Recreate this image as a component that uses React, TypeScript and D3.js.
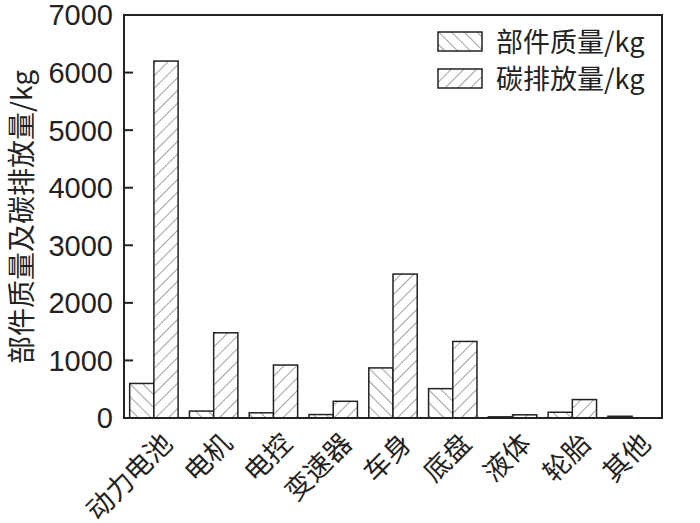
import React from "react";
import * as d3 from "d3";

const categories = ["动力电池", "电机", "电控", "变速器", "车身", "底盘", "液体", "轮胎", "其他"];
const massValues = [600, 120, 90, 60, 870, 510, 20, 100, 30];
const emissionValues = [6200, 1480, 920, 290, 2500, 1330, 55, 320, 0];
const seriesNames = ["部件质量/kg", "碳排放量/kg"];
const yTicks = [0, 1000, 2000, 3000, 4000, 5000, 6000, 7000];
const yLabel = "部件质量及碳排放量/kg";

const W = 700, H = 523;
const L = 124, R = 662, T = 15, B = 418;
const CJK = "'Noto Sans CJK SC', 'Liberation Sans', sans-serif";
const NUM = "'Liberation Sans', Arial, sans-serif";

export default function App() {
  const x = d3.scaleBand<string>().domain(categories).range([L, R]).paddingInner(0.19).paddingOuter(0.095);
  const y = d3.scaleLinear().domain([0, 7000]).range([B, T]);
  const bw = x.bandwidth() / 2;
  const series = [massValues, emissionValues];
  const fills = ["url(#hatchBack)", "url(#hatchFwd)"];
  return (
    <svg width={W} height={H} style={{ display: "block", position: "absolute", left: 0, top: 0 }}>
      <defs>
        <pattern id="hatchBack" patternUnits="userSpaceOnUse" width={9} height={9} patternTransform="rotate(-45)">
          <rect width={9} height={9} fill="#fff" />
          <line x1={0} y1={0} x2={0} y2={9} stroke="#555" strokeWidth={1.1} />
        </pattern>
        <pattern id="hatchFwd" patternUnits="userSpaceOnUse" width={9} height={9} patternTransform="rotate(45)">
          <rect width={9} height={9} fill="#fff" />
          <line x1={0} y1={0} x2={0} y2={9} stroke="#555" strokeWidth={1.1} />
        </pattern>
      </defs>
      <rect width={W} height={H} fill="#fff" />
      {categories.map((c, i) => (
        <g key={c}>
          {series.map((vals, s) => {
            const x0 = (x(c) as number) + s * bw;
            const y0 = y(vals[i]);
            return (
              <rect key={s} x={x0} y={y0} width={bw} height={Math.max(0, B - y0)} fill={fills[s]} stroke="#222" strokeWidth={1.5} />
            );
          })}
        </g>
      ))}
      <rect x={L} y={T} width={R - L} height={B - T} fill="none" stroke="#222" strokeWidth={2} />
      {yTicks.map((t) => (
        <g key={t}>
          <line x1={L} x2={L + 9} y1={y(t)} y2={y(t)} stroke="#222" strokeWidth={2} />
          <text x={L - 11} y={y(t)} dy="0.36em" textAnchor="end" fontFamily={NUM} fontSize={29} fill="#222">
            {t}
          </text>
        </g>
      ))}
      <text transform={`translate(32, 217) rotate(-90)`} textAnchor="middle" fontFamily={CJK} fontSize={28} fill="#222">
        {yLabel}
      </text>
      {categories.map((c) => {
        const cx = (x(c) as number) + x.bandwidth() / 2;
        return (
          <text key={c} transform={`translate(${cx + 5}, ${430}) rotate(-45)`} textAnchor="end" dy="0.8em" fontFamily={CJK} fontSize={27} fill="#222">
            {c}
          </text>
        );
      })}
      {seriesNames.map((n, s) => (
        <g key={n} transform={`translate(438, ${32 + s * 37})`}>
          <rect x={0} y={0} width={44} height={19} fill={fills[s]} stroke="#222" strokeWidth={1.5} />
          <text x={58} y={10} dy="0.36em" fontFamily={CJK} fontSize={27} fill="#222">
            {n}
          </text>
        </g>
      ))}
    </svg>
  );
}
